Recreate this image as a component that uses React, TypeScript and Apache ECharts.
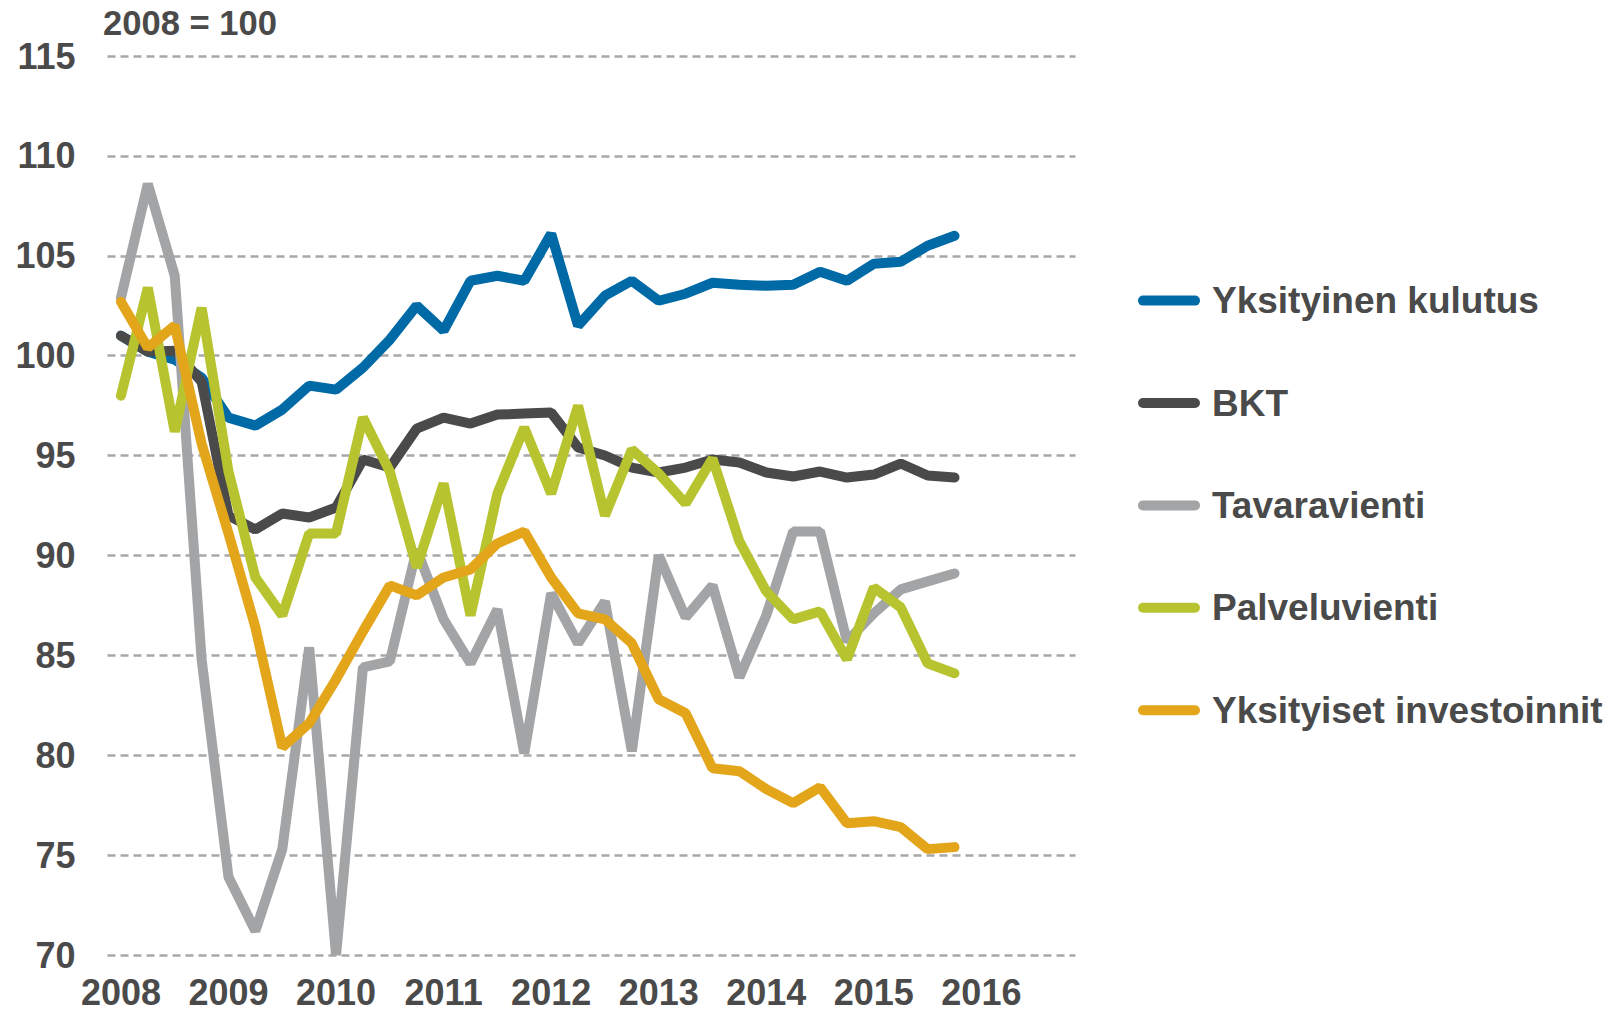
import React, { useEffect, useRef } from "react";
import * as echarts from "echarts";

const years = ["2008", "2009", "2010", "2011", "2012", "2013", "2014", "2015", "2016"];
const quarters = ["Q1", "Q2", "Q3", "Q4"];
const categories = years.flatMap((y) => quarters.map((q) => `${y} ${q}`));

const seriesNames = [
  "Yksityinen kulutus",
  "BKT",
  "Tavaravienti",
  "Palveluvienti",
  "Yksityiset investoinnit",
];

const yksityinenKulutus = [
  101.0, 100.2, 99.8, 98.9, 96.9, 96.5, 97.3, 98.5, 98.3, 99.4, 100.8, 102.5,
  101.25, 103.75, 104.0, 103.75, 106.1, 101.5, 103.0, 103.75, 102.75, 103.1, 103.65, 103.55,
  103.5, 103.55, 104.2, 103.75, 104.6, 104.7, 105.5, 106.0,
];
const bkt = [
  101.0, 100.2, 100.25, 98.7, 92.0, 91.3, 92.1, 91.9, 92.4, 94.8, 94.4, 96.35,
  96.9, 96.6, 97.05, 97.1, 97.15, 95.4, 95.0, 94.4, 94.15, 94.4, 94.8, 94.65,
  94.15, 93.95, 94.2, 93.9, 94.05, 94.6, 94.0, 93.9,
];
const tavaravienti = [
  102.9, 108.6, 104.0, 84.8, 73.9, 71.2, 75.3, 85.4, 70.0, 84.4, 84.7, 90.3,
  86.8, 84.6, 87.3, 80.1, 88.1, 85.6, 87.7, 80.2, 90.0, 86.9, 88.5, 83.9,
  87.0, 91.2, 91.2, 85.7, 87.1, 88.3, 88.7, 89.1,
];
const palveluvienti = [
  98.0, 103.4, 96.2, 102.4, 94.2, 88.9, 87.0, 91.1, 91.1, 96.9, 94.2, 89.4,
  93.6, 87.0, 93.1, 96.4, 93.1, 97.5, 92.0, 95.3, 94.1, 92.6, 94.85, 90.7,
  88.2, 86.8, 87.2, 84.8, 88.4, 87.4, 84.6, 84.1,
];
const yksityisetInvestoinnit = [
  102.7, 100.4, 101.5, 95.6, 91.1, 86.4, 80.4, 81.6, 83.8, 86.2, 88.5, 88.0,
  88.9, 89.3, 90.6, 91.2, 88.9, 87.1, 86.8, 85.6, 82.8, 82.1, 79.35, 79.2,
  78.3, 77.6, 78.4, 76.6, 76.7, 76.4, 75.3, 75.4,
];

const seriesData = [yksityinenKulutus, bkt, tavaravienti, palveluvienti, yksityisetInvestoinnit];
const seriesColors = ["#006AA7", "#4A4A4A", "#A3A4A6", "#B8C42F", "#E3A51A"];

const yMin = 70;
const yMax = 115;
const yStep = 5;
const indexNote = "2008 = 100";

const textColor = "#4A4A4A";
const fontFamily = '"Liberation Sans", Arial, Helvetica, sans-serif';

export default function App() {
  const ref = useRef<HTMLDivElement>(null);

  useEffect(() => {
    if (!ref.current) return;
    const chart = echarts.init(ref.current, undefined, { renderer: "svg" });
    chart.setOption({
      animation: false,
      backgroundColor: "#ffffff",
      textStyle: { fontFamily },
      grid: { left: 107.5, right: 538.5, top: 56, bottom: 60, containLabel: false },
      xAxis: {
        type: "category",
        data: categories,
        boundaryGap: true,
        axisLine: { show: false },
        axisTick: { show: false },
        splitLine: { show: false },
        axisLabel: {
          interval: 3,
          formatter: (v: string) => v.slice(0, 4),
          fontSize: 36,
          fontWeight: "bold",
          color: textColor,
          fontFamily,
          verticalAlign: "middle",
          lineHeight: 30,
          margin: 37,
        },
      },
      yAxis: {
        type: "value",
        min: yMin,
        max: yMax,
        interval: yStep,
        axisLine: { show: false },
        axisTick: { show: false },
        axisLabel: {
          fontSize: 36,
          fontWeight: "bold",
          color: textColor,
          fontFamily,
          margin: 32,
        },
        splitLine: {
          show: true,
          lineStyle: { type: [8, 5], color: "#A8A8A8", width: 2.5 },
        },
      },
      legend: {
        orient: "vertical",
        left: 1138,
        top: 280.6,
        padding: 0,
        itemWidth: 62,
        itemHeight: 10,
        itemGap: 62.4,
        icon: "path://M5,0H57A5,5,0,0,1,57,10H5A5,5,0,0,1,5,0Z",
        itemStyle: { borderWidth: 0 },
        textStyle: {
          fontSize: 37,
          fontWeight: "bold",
          color: textColor,
          fontFamily,
          lineHeight: 40,
          padding: [0, 0, 0, 7],
        },
        data: seriesNames,
      },
      graphic: [
        {
          type: "text",
          x: 103,
          y: 23,
          style: {
            text: indexNote,
            fontSize: 34.6,
            fontWeight: "bold",
            fontFamily,
            fill: textColor,
            align: "left",
            verticalAlign: "middle",
          },
        },
      ],
      series: seriesNames.map((name, i) => ({
        name,
        type: "line",
        data: seriesData[i],
        symbol: "none",
        showSymbol: false,
        color: seriesColors[i],
        itemStyle: { color: seriesColors[i] },
        lineStyle: { width: 10, color: seriesColors[i], cap: "round" },
        z: 2 + i,
      })),
    });
    return () => chart.dispose();
  }, []);

  return (
    <div
      ref={ref}
      style={{ position: "absolute", left: 0, top: 0, width: 1614, height: 1015 }}
    />
  );
}
